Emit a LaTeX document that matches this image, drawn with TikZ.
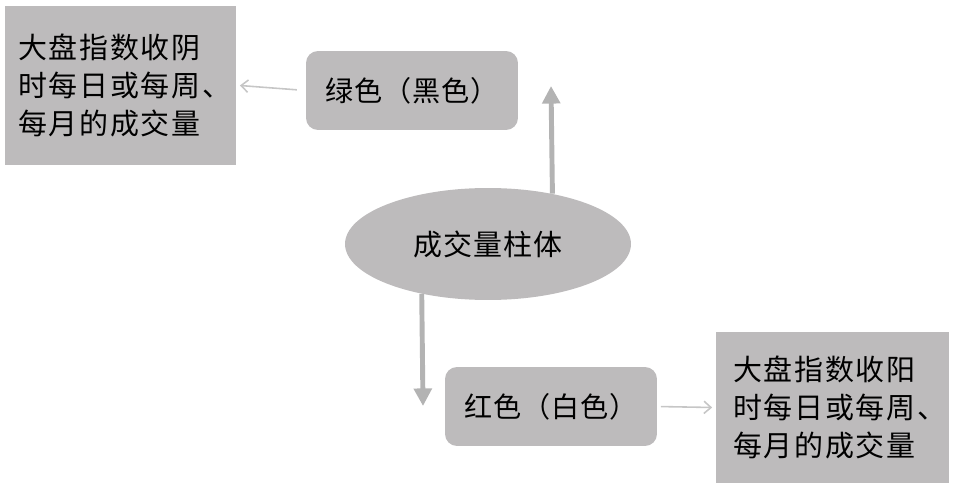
\documentclass[tikz,border=0pt]{standalone}
\usepackage{fontspec}
\newfontfamily\cjk{Noto Sans CJK SC}
\newfontfamily\cjkwide{Noto Sans CJK SC}[LetterSpace=6]
\newfontfamily\cjkmid{Noto Sans CJK SC}[LetterSpace=3]
\usetikzlibrary{arrows.meta,shapes.geometric}
\definecolor{boxgray}{HTML}{BDBBBC}
\definecolor{thingray}{HTML}{C6C6C6}
\definecolor{fatgray}{HTML}{B3B3B3}
\tikzset{
  textbox/.style={fill=boxgray, align=left, inner ysep=0pt, font=\cjkwide\fontsize{16.5}{21.5}\selectfont},
  colorbox/.style={fill=boxgray, rounded corners=0.24cm, minimum width=4.24cm, minimum height=1.58cm, font=\cjkmid\fontsize{16}{20}\selectfont},
  thinarrow/.style={draw=thingray, line width=0.9pt, -{Straight Barb[length=4pt,width=7pt]}},
  fatarrow/.style={draw=fatgray, line width=2.8pt, -{Triangle[length=10pt,width=10pt]}}
}
\begin{document}
\begin{tikzpicture}[x=0.02cm,y=-0.02cm]
\useasboundingbox (0,0) rectangle (955,489);
\node[textbox, inner xsep=0.26cm, text width=4.1cm, minimum height=3.18cm] (yin) at (120.5,85.5) {大盘指数收阴\\时每日或每周、\\每月的成交量};
\node[textbox, inner xsep=0.34cm, text width=3.98cm, minimum height=3.02cm] (yang) at (832.5,407.5) {大盘指数收阳\\时每日或每周、\\每月的成交量};
\node[colorbox] (green) at (412,90.5) {绿色（黑色）};
\node[colorbox] (red) at (551,406.5) {红色（白色）};
\node[ellipse, fill=boxgray, minimum width=5.72cm, minimum height=2.24cm, inner sep=0pt, font=\cjkmid\fontsize{16.5}{20}\selectfont] (bar) at (488,244) {成交量柱体};
\coordinate (uptip) at (551,86);
\coordinate (downtip) at (423,406);
% connectors
\path[fatarrow] (bar.38.6) -- (uptip);
\path[fatarrow] (bar.217.5) -- (downtip);
\path[thinarrow, shorten <=5pt] (green.west) -- ([xshift=2pt]yin.east);
\path[thinarrow, shorten <=2pt] (red.east) -- ([xshift=-2pt]yang.west);
\end{tikzpicture}
\end{document}
